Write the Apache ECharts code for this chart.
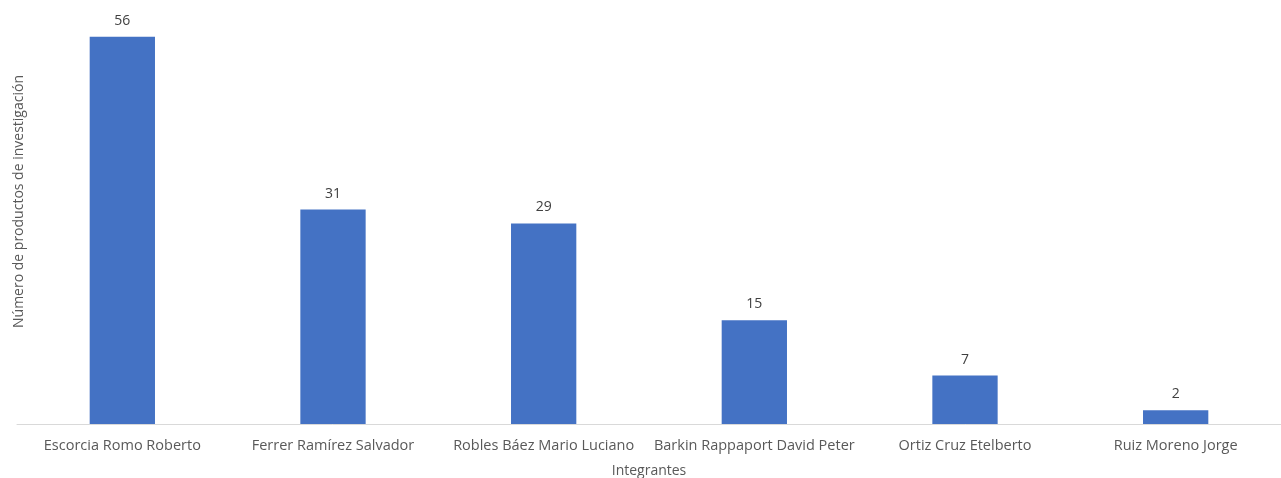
<!DOCTYPE html>
<html><head><meta charset="utf-8">
<script src="https://cdn.jsdelivr.net/npm/echarts@6/dist/echarts.min.js"></script>
<style>html,body{margin:0;padding:0;background:#fff}#c{width:1281px;height:478px}</style>
</head><body><div id="c"></div>
<script>
const categories = ["Escorcia Romo Roberto","Ferrer Ramírez Salvador","Robles Báez Mario Luciano","Barkin Rappaport David Peter","Ortiz Cruz Etelberto","Ruiz Moreno Jorge"];
const values = [56,31,29,15,7,2];
const xName = "Integrantes";
const yName = "Número de productos de investigación";
const chart = echarts.init(document.getElementById('c'));
const font = "'Open Sans', 'Noto Sans', sans-serif";
chart.setOption({
  animation:false,
  grid:{left:17,right:0,top:9,bottom:54,containLabel:false,outerBoundsMode:'none'},
  xAxis:{type:'category',data:categories,name:xName,nameLocation:'middle',nameGap:40,
    nameTextStyle:{color:'#595959',fontSize:14,fontFamily:font},
    axisLine:{lineStyle:{color:'#d9d9d9',width:1}},axisTick:{show:false},
    axisLabel:{color:'#595959',fontSize:14.5,fontFamily:font,margin:14,interval:0}},
  yAxis:{type:'value',min:0,max:60,name:yName,nameLocation:'middle',nameGap:-9,
    nameTextStyle:{color:'#595959',fontSize:14,fontFamily:font,verticalAlign:'bottom',padding:[0,0,0,30]},
    axisLine:{show:false},axisTick:{show:false},axisLabel:{show:false},splitLine:{show:false}},
  series:[{type:'bar',data:values,barWidth:'31%',itemStyle:{color:'#4472c4'},
    label:{show:true,position:'top',distance:9,color:'#404040',fontSize:14,fontFamily:font}}]
});
</script></body></html>
